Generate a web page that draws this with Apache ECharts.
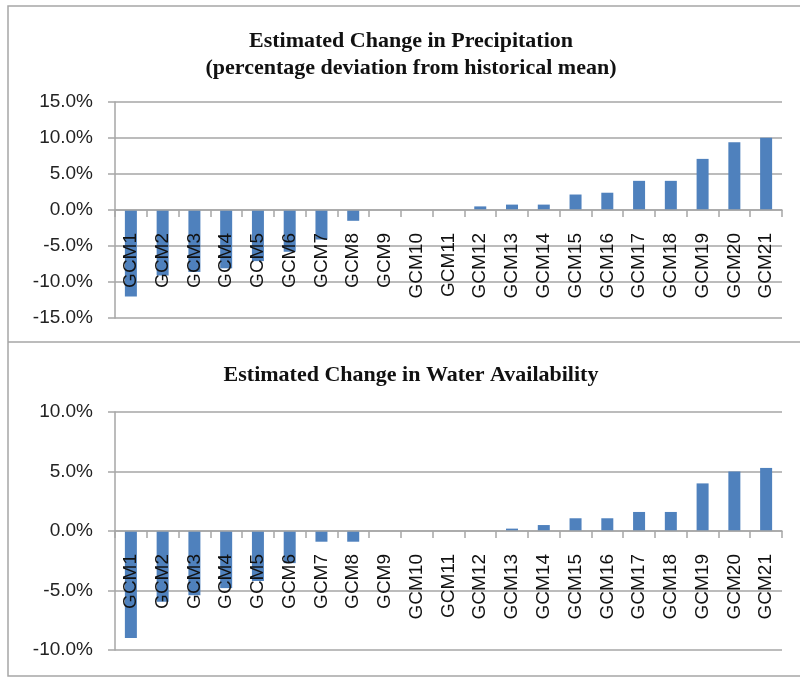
<!DOCTYPE html>
<html>
<head>
<meta charset="utf-8">
<script src="https://cdn.jsdelivr.net/npm/echarts@6/dist/echarts.min.js"></script>
<style>
html,body{margin:0;padding:0;background:#fff;}
#chart{width:800px;height:677px;}
</style>
</head>
<body>
<div id="chart"></div>
<script>
const categories = ['GCM1','GCM2','GCM3','GCM4','GCM5','GCM6','GCM7','GCM8','GCM9','GCM10','GCM11','GCM12','GCM13','GCM14','GCM15','GCM16','GCM17','GCM18','GCM19','GCM20','GCM21'];
const precipitation = [-12.0,-9.1,-8.6,-8.1,-7.1,-5.8,-4.1,-1.5,0,0,0,0.5,0.75,0.75,2.15,2.4,4.05,4.05,7.1,9.4,10.05];
const waterAvailability = [-9.0,-5.95,-5.4,-4.8,-4.2,-2.7,-0.9,-0.9,0,0,0,0,0.2,0.5,1.07,1.07,1.6,1.6,4.0,5.0,5.3];
const title1 = 'Estimated Change in Precipitation\n(percentage deviation from historical mean)';
const title2 = 'Estimated Change in Water Availability';

const chart = echarts.init(document.getElementById('chart'));
const gridColor = '#a6a6a6';
const barColor = '#4f81bd';

const grids = [
  {left:115, width:667, top:102, height:216, min:-15, max:15},
  {left:115, width:667, top:412, height:238, min:-10, max:10}
];

function xAxis(gi){
  const g = grids[gi];
  // shift the axis up from the grid bottom to the zero line
  const off = -g.height * (0 - g.min) / (g.max - g.min);
  return {
    type:'category', gridIndex:gi, data:categories, position:'bottom', offset:off, z:10,
    axisLine:{onZero:false, lineStyle:{color:gridColor, width:1.5}},
    axisTick:{show:true, length:7, lineStyle:{color:gridColor, width:1.5}},
    axisLabel:{rotate:90, margin:23, color:'#111', fontFamily:'Liberation Sans', fontSize:19, interval:0}
  };
}
function yAxis(gi){
  const g = grids[gi];
  return {
    type:'value', gridIndex:gi, min:g.min, max:g.max, interval:5,
    axisLine:{show:true, lineStyle:{color:gridColor, width:1.5}},
    axisTick:{show:true, length:7, lineStyle:{color:gridColor, width:1.5}},
    splitLine:{show:true, lineStyle:{color:gridColor, width:1.5}},
    axisLabel:{margin:22, color:'#222', fontFamily:'Liberation Sans', fontSize:19,
      formatter:v=>v.toFixed(1)+'%'}
  };
}
const titleStyle = {fontFamily:'Liberation Serif', fontWeight:'bold', fontSize:22, color:'#111', lineHeight:27};

chart.setOption({
  animation:false,
  title:[
    {text:title1, left:406, top:23, textAlign:'center', textStyle:titleStyle},
    {text:title2, left:406, top:357, textAlign:'center', textStyle:titleStyle}
  ],
  graphic:[
    {type:'rect', shape:{x:8,y:6,width:800,height:670}, style:{fill:'none', stroke:gridColor, lineWidth:1.5}, silent:true},
    {type:'line', shape:{x1:8,y1:342,x2:800,y2:342}, style:{stroke:gridColor, lineWidth:1.5}, silent:true}
  ],
  grid:grids.map(g=>({left:g.left, width:g.width, top:g.top, height:g.height})),
  xAxis:[xAxis(0), xAxis(1)],
  yAxis:[yAxis(0), yAxis(1)],
  series:[
    {type:'bar', xAxisIndex:0, yAxisIndex:0, data:precipitation, barWidth:12, itemStyle:{color:barColor}, z:2},
    {type:'bar', xAxisIndex:1, yAxisIndex:1, data:waterAvailability, barWidth:12, itemStyle:{color:barColor}, z:2}
  ]
});
</script>
</body>
</html>
